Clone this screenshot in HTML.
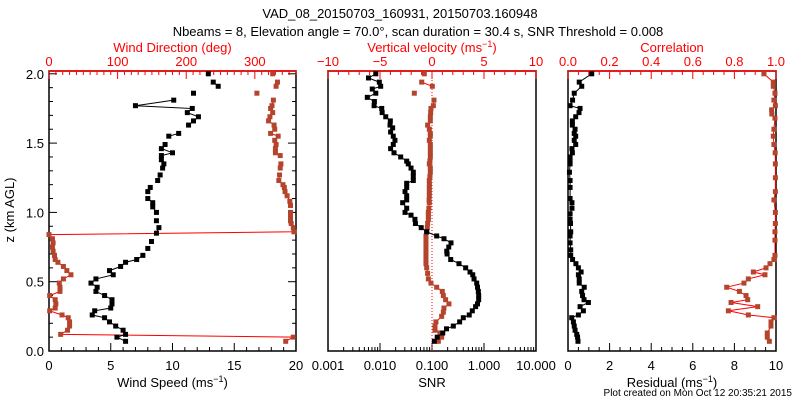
<!DOCTYPE html>
<html><head><meta charset="utf-8">
<style>
body{margin:0;background:#fff;}
svg{display:block;font-family:"Liberation Sans","DejaVu Sans",sans-serif;}
</style></head>
<body>
<svg id="chart" width="800" height="400" viewBox="0 0 800 400" xmlns="http://www.w3.org/2000/svg">
<rect x="0" y="0" width="800" height="400" fill="#fff"/>
<text x="400" y="18" text-anchor="middle" font-size="13">VAD_08_20150703_160931, 20150703.160948</text>
<text x="418" y="36" text-anchor="middle" font-size="13">Nbeams = 8, Elevation angle = 70.0°, scan duration = 30.4 s, SNR Threshold = 0.008</text>
<text transform="translate(14,210) rotate(-90)" text-anchor="middle" font-size="13">z (km AGL)</text>
<text x="792" y="396" text-anchor="end" font-size="10">Plot created on Mon Oct 12 20:35:21 2015</text>
<g id="layer"></g>
</svg>
<script>
// ---------- data ----------
const wsZ=[2.0,1.94,1.91,1.86,1.81,1.77,1.75,1.72,1.69,1.66,1.63,1.57,1.55,1.49,1.46,1.43,1.41,1.38,1.35,1.32,1.27,1.23,1.18,1.15,1.10,1.07,1.04,1.00,0.94,0.89,0.85,0.79,0.74,0.69,0.66,0.64,0.61,0.58,0.55,0.52,0.49,0.46,0.43,0.40,0.37,0.34,0.31,0.29,0.26,0.24,0.21,0.18,0.15,0.12,0.10,0.07];
const wsVal=[12.9,13.3,13.7,11.7,10.1,7.0,11.6,11.2,12.1,11.7,11.3,10.5,9.7,9.4,9.1,10.0,9.1,9.1,9.3,9.2,9.0,8.8,8.2,8.0,8.0,8.4,8.4,8.7,8.7,8.9,8.7,8.3,8.0,7.6,7.1,6.2,5.8,4.9,5.2,3.8,3.4,3.9,3.8,4.5,5.1,5.1,5.0,3.7,3.5,4.5,4.9,5.4,6.0,6.2,5.5,6.2];
const wdZ=[2.0,1.94,1.91,1.86,1.81,1.77,1.75,1.72,1.69,1.66,1.63,1.60,1.57,1.55,1.52,1.49,1.46,1.43,1.41,1.35,1.32,1.27,1.23,1.20,1.18,1.15,1.12,1.08,1.05,1.00,0.97,0.94,0.92,0.89,0.86,0.84,0.81,0.78,0.75,0.72,0.69,0.66,0.64,0.61,0.58,0.55,0.52,0.49,0.46,0.43,0.40,0.37,0.34,0.31,0.29,0.26,0.24,0.21,0.18,0.15,0.12,0.10,0.07];
const wdVal=[326,333,331,303,327,325,323,326,322,320,328,329,323,334,329,331,330,330,337,338,337,336,335,341,343,344,347,351,352,352,352,352,353,356,357,0,5,6,5,6,8,9,13,21,26,32,21,15,16,16,1,9,10,9,1,19,28,30,30,27,17,356,345];
const snrZ=[2.0,1.97,1.94,1.91,1.89,1.86,1.83,1.80,1.77,1.75,1.72,1.69,1.66,1.63,1.61,1.58,1.55,1.52,1.49,1.46,1.43,1.40,1.37,1.35,1.32,1.29,1.26,1.23,1.21,1.18,1.15,1.12,1.09,1.07,1.03,1.00,0.98,0.95,0.92,0.89,0.86,0.83,0.81,0.78,0.75,0.72,0.70,0.66,0.63,0.60,0.57,0.55,0.52,0.49,0.46,0.43,0.40,0.37,0.34,0.32,0.29,0.26,0.24,0.21,0.18,0.16,0.13,0.10,0.07];
const snrVal=[0.0083,0.0060,0.0097,0.0103,0.0071,0.0083,0.0057,0.0078,0.0077,0.0108,0.011,0.0129,0.0158,0.0156,0.0175,0.016,0.018,0.0194,0.018,0.016,0.0186,0.025,0.0326,0.035,0.0395,0.0437,0.0437,0.0437,0.0326,0.0326,0.0303,0.0326,0.0326,0.0273,0.0326,0.0303,0.0395,0.047,0.048,0.062,0.079,0.123,0.17,0.232,0.21,0.192,0.195,0.229,0.33,0.444,0.538,0.607,0.643,0.724,0.75,0.778,0.79,0.79,0.75,0.69,0.596,0.52,0.40,0.34,0.257,0.19,0.161,0.126,0.111];
const wZ=[2.0,1.94,1.91,1.86,1.81,1.77,1.75,1.72,1.69,1.66,1.63,1.60,1.57,1.55,1.52,1.49,1.46,1.43,1.40,1.37,1.35,1.32,1.29,1.26,1.23,1.20,1.18,1.15,1.12,1.09,1.07,1.03,1.00,0.98,0.95,0.92,0.89,0.86,0.83,0.80,0.78,0.75,0.73,0.70,0.68,0.65,0.63,0.60,0.56,0.52,0.49,0.46,0.43,0.40,0.37,0.34,0.31,0.28,0.25,0.21,0.18,0.15,0.13,0.10,0.07];
const wVal=[-0.74,-0.99,0.03,-1.70,0.19,0.13,-0.1,-0.13,-0.16,-0.16,-0.42,-0.26,-0.16,-0.16,-0.26,-0.16,-0.16,-0.16,-0.16,-0.2,-0.26,-0.16,-0.16,-0.2,-0.26,-0.25,-0.26,-0.26,-0.26,-0.28,-0.26,-0.3,-0.35,-0.35,-0.35,-0.42,-0.45,-0.51,-0.58,-0.58,-0.58,-0.58,-0.58,-0.58,-0.58,-0.58,-0.58,-0.51,-0.42,-0.35,-0.1,0.45,0.99,1.09,1.31,1.63,1.15,1.09,0.93,0.38,0.29,0.29,0.77,0.93,0.61];
const resZ=[2.0,1.94,1.91,1.86,1.81,1.77,1.75,1.72,1.69,1.66,1.63,1.60,1.57,1.55,1.52,1.49,1.46,1.43,1.40,1.37,1.35,1.29,1.23,1.18,1.10,1.07,1.03,0.99,0.95,0.92,0.86,0.83,0.78,0.73,0.69,0.66,0.63,0.60,0.57,0.55,0.52,0.49,0.46,0.43,0.40,0.37,0.35,0.32,0.29,0.26,0.24,0.21,0.18,0.15,0.12,0.10,0.07];
const resVal=[1.14,0.54,0.66,0.30,0.22,0.10,0.58,0.53,0.37,0.21,0.21,0.34,0.30,0.37,0.30,0.37,0.19,0.21,0.10,0.10,0.10,0.07,0.10,0.10,0.10,0.19,0.19,0.10,0.10,0.12,0.13,0.10,0.10,0.13,0.13,0.22,0.38,0.50,0.63,0.50,0.54,0.54,0.78,0.66,0.70,0.77,0.98,0.58,0.74,0.50,0.18,0.26,0.30,0.34,0.42,0.46,0.48];
const corZ=[2.0,1.94,1.91,1.86,1.81,1.77,1.74,1.71,1.68,1.60,1.55,1.49,1.43,1.35,1.25,1.15,1.09,1.00,0.92,0.86,0.80,0.69,0.66,0.63,0.60,0.57,0.55,0.52,0.49,0.46,0.43,0.40,0.37,0.35,0.32,0.29,0.26,0.24,0.21,0.18,0.13,0.10,0.07];
const corVal=[0.942,0.987,0.987,0.995,0.99,0.997,0.979,0.98,0.995,0.99,0.987,0.99,0.996,0.997,0.997,0.997,0.99,0.997,0.997,0.995,0.995,0.995,0.99,0.971,0.952,0.891,0.947,0.867,0.846,0.763,0.824,0.856,0.864,0.784,0.912,0.771,0.867,0.99,0.976,0.976,0.958,0.958,0.968];
const zTicks=["0.0","0.5","1.0","1.5","2.0"];
const wsTicks=["0","5","10","15","20"];
const wdTicks=["0","100","200","300"];
const snrTicks=["0.001","0.010","0.100","1.000","10.000"];
const wTicks=["\u221210","\u22125","0","5","10"];
const resTicks=["0","2","4","6","8","10"];
const corTicks=["0.0","0.2","0.4","0.6","0.8","1.0"];

// ---------- layout ----------
const NS="http://www.w3.org/2000/svg";
const layer=document.getElementById('layer');
const TOP=71,BOT=351;
const yZ=z=>BOT-138.6*z;
const P1={l:49,r:296},P2={l:328,r:536},P3={l:568,r:776};
const xWs=v=>P1.l+v/20*(P1.r-P1.l);
const xWd=v=>P1.l+v/360*(P1.r-P1.l);
const xSnr=v=>P2.l+(Math.log10(v)+3)/4*(P2.r-P2.l);
const xW=v=>P2.l+(v+10)/20*(P2.r-P2.l);
const xRes=v=>P3.l+v/10*(P3.r-P3.l);
const xCor=v=>P3.l+v*(P3.r-P3.l);
const BLACK="#000",BROWN="#b5442d",RED="#ff0000";

function mk(tag,attrs,parent){const e=document.createElementNS(NS,tag);for(const k in attrs)e.setAttribute(k,attrs[k]);(parent||layer).appendChild(e);return e;}
function txt(s,x,y,col,anchor,size){const t=mk('text',{x:x,y:y,fill:col,'text-anchor':anchor||'middle','font-size':size||13});t.textContent=s;return t;}
function line(x1,y1,x2,y2,col,w){return mk('line',{x1:x1,y1:y1,x2:x2,y2:y2,stroke:col,'stroke-width':w||1});}

function frame(P,name){
  const r=mk('rect',{x:P.l,y:TOP,width:P.r-P.l,height:BOT-TOP,fill:'none',stroke:'#000','stroke-width':1.5});
  
  
}
function topAxis(P,fx,min,max,minorStep,majorStep,labels,title,name){
  const g=mk('g',{});
  
  
  g.appendChild(line(P.l,TOP,P.r,TOP,RED,1.5));
  const n=Math.round((max-min)/minorStep);
  for(let i=0;i<=n;i++){const v=min+i*minorStep;const x=fx(v);const maj=Math.abs(v/majorStep-Math.round(v/majorStep))<1e-6;g.appendChild(line(x,TOP,x,TOP+(maj?8:4),RED,1));}
  labels.forEach((s,i)=>{const v=min+i*majorStep;const t=txt(s,fx(v),66,RED);g.appendChild(t);});
  const tt=txt('',(P.l+P.r)/2,52,RED);tt.innerHTML=title;g.appendChild(tt);
}
function bottomAxis(P,ticksFn,labels,title,name){
  const g=mk('g',{});
  
  
  ticksFn(g);
  labels.forEach(l=>{const t=txt(l.s,l.x,370,BLACK);g.appendChild(t);});
  const tt=txt('',(P.l+P.r)/2,387,BLACK);tt.innerHTML=title;g.appendChild(tt);
}
function linTicks(fx,min,max,minorStep,majorStep){
  return g=>{const n=Math.round((max-min)/minorStep);
    for(let i=0;i<=n;i++){const v=min+i*minorStep;const x=fx(v);const maj=Math.abs(v/majorStep-Math.round(v/majorStep))<1e-6;g.appendChild(line(x,BOT,x,BOT-(maj?8:4),BLACK,1));}};
}
// connect consecutive points unless the height gap exceeds maxGap (missing levels)
function series(zs,vs,fx,col,lineCol,name,maxGap){
  const g=mk('g',{});
  
  
  let segs=[[]];
  zs.forEach((z,i)=>{
    if(i>0 && maxGap && (zs[i-1]-z)>maxGap) segs.push([]);
    segs[segs.length-1].push(fx(vs[i]).toFixed(1)+','+yZ(z).toFixed(1));
  });
  segs.forEach(s=>{if(s.length>1)g.appendChild(mk('polyline',{points:s.join(' '),fill:'none',stroke:lineCol,'stroke-width':1}));});
  zs.forEach((z,i)=>{
    const m=mk('rect',{x:fx(vs[i])-2.5,y:yZ(z)-2.5,width:5,height:5,fill:col},g);
    
    
  });
}

// Panel 1
frame(P1,'wind-panel-frame');
const lg=mk('g',{});


for(let i=0;i<=20;i++){const y=yZ(i*0.1);const maj=i%5==0;
  lg.appendChild(line(P1.l,y,P1.l+(maj?8:4),y,BLACK,1));
  lg.appendChild(line(P1.r,y,P1.r-(maj?8:4),y,BLACK,1));}
zTicks.forEach((s,i)=>lg.appendChild(txt(s,44,yZ(i*0.5)+5,BLACK,'end')));
topAxis(P1,xWd,0,360,10,100,wdTicks,'Wind Direction (deg)','wind-direction-axis');
bottomAxis(P1,linTicks(xWs,0,20,1,5),wsTicks.map((s,i)=>({s:s,x:xWs(i*5)})),'Wind Speed (ms<tspan font-size="9" dy="-5">\u22121</tspan><tspan dy="5">)</tspan>','wind-speed-axis');
series(wdZ,wdVal,xWd,BROWN,RED,'wind-direction-series',0.045);
series(wsZ,wsVal,xWs,BLACK,BLACK,'wind-speed-series',0.045);

// Panel 2
frame(P2,'snr-panel-frame');
topAxis(P2,xW,-10,10,1,5,wTicks,'Vertical velocity (ms<tspan font-size="9" dy="-5">\u22121</tspan><tspan dy="5">)</tspan>','vertical-velocity-axis');
bottomAxis(P2,g=>{for(let d=-3;d<1;d++){for(let m=1;m<=10;m++){const v=m*Math.pow(10,d);const x=xSnr(v);g.appendChild(line(x,BOT,x,BOT-(m==1||m==10?8:4),BLACK,1));}}},
  snrTicks.map((s,i)=>({s:s,x:xSnr(Math.pow(10,i-3))})),'SNR','snr-axis');
const dl=mk('line',{x1:xSnr(0.1),y1:TOP,x2:xSnr(0.1),y2:BOT,stroke:RED,'stroke-width':1,'stroke-dasharray':'1,2'});


series(wZ,wVal,xW,BROWN,RED,'vertical-velocity-series',0.045);
series(snrZ,snrVal,xSnr,BLACK,BLACK,'snr-series',0.045);

// Panel 3
frame(P3,'residual-panel-frame');
topAxis(P3,xCor,0,1,0.05,0.2,corTicks,'Correlation','correlation-axis');
bottomAxis(P3,linTicks(xRes,0,10,0.5,2),resTicks.map((s,i)=>({s:s,x:xRes(i*2)})),'Residual (ms<tspan font-size="9" dy="-5">\u22121</tspan><tspan dy="5">)</tspan>','residual-axis');
series(corZ,corVal,xCor,BROWN,RED,'correlation-series');
series(resZ,resVal,xRes,BLACK,BLACK,'residual-series');
</script>
</body></html>
